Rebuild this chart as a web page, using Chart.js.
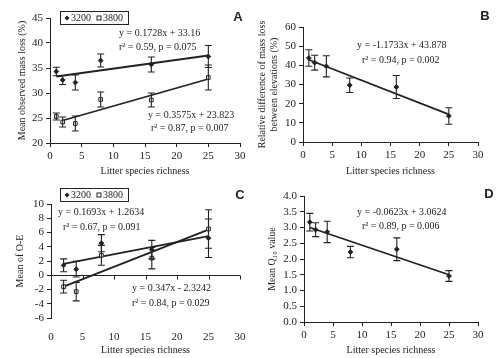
<!DOCTYPE html>
<html>
<head>
<meta charset="utf-8">
<script src="https://cdn.jsdelivr.net/npm/chart.js@4"></script>
<style>
  body { margin: 0; background: #fff; }
  #wrap { position: relative; width: 500px; height: 358px; }
  canvas { position: absolute; }
</style>
</head>
<body>
<div id="wrap">
  <canvas id="chartA" width="250" height="179" style="left:0;top:0"></canvas>
  <canvas id="chartB" width="250" height="179" style="left:250px;top:0"></canvas>
  <canvas id="chartC" width="250" height="179" style="left:0;top:179px"></canvas>
  <canvas id="chartD" width="250" height="179" style="left:250px;top:179px"></canvas>
</div>
<script>
// litter species richness (x values)
var richness = [1, 2, 4, 8, 16, 25];
var richnessC = [2, 4, 8, 16, 25];
var xTicks = [0, 5, 10, 15, 20, 25, 30];

// A - mean observed mass loss (%)
var massLoss3200 = [34.3, 32.6, 32.1, 36.5, 35.7, 37.3];
var massLoss3200Err = [0.85, 0.9, 1.5, 1.3, 1.5, 2.2];
var massLoss3800 = [25.3, 24.2, 23.9, 28.7, 28.6, 33.1];
var massLoss3800Err = [0.7, 1.0, 1.5, 1.5, 1.4, 2.5];
var fitA3200X = [1, 25], fitA3200Y = [33.3, 37.5];
var fitA3800X = [2, 25], fitA3800Y = [24.5, 32.8];

// B - relative difference of mass loss between elevations (%)
var relDiff = [43.8, 41.4, 39.5, 29.6, 28.7, 13.6];
var relDiffErr = [4.3, 3.9, 5.5, 3.8, 6.0, 4.3];
var fitBX = [1, 25], fitBY = [42.9, 14.4];

// C - mean of O-E
var oe3200 = [1.4, 0.85, 4.5, 3.6, 5.2];
var oe3200Err = [0.9, 1.1, 1.2, 1.3, 2.7];
var oe3800 = [-1.6, -2.3, 2.8, 2.4, 6.5];
var oe3800Err = [0.9, 1.3, 1.4, 1.5, 2.7];
var fitC3200X = [2, 25], fitC3200Y = [1.6, 5.5];
var fitC3800X = [2, 25], fitC3800Y = [-1.6, 6.4];

// D - mean Q10 value
var q10 = [3.17, 2.93, 2.86, 2.22, 2.31, 1.46];
var q10Err = [0.28, 0.22, 0.34, 0.18, 0.36, 0.17];
var fitDX = [1, 25], fitDY = [3.0, 1.5];

var serif = "'Liberation Serif', 'Times New Roman', serif";
var ink = '#222';

function pts(xs, ys) {
  var out = [];
  for (var i = 0; i < xs.length; i++) out.push({x: xs[i], y: ys[i]});
  return out;
}

function points(xs, ys, errs, style) {
  return {
    type: 'scatter',
    data: pts(xs, ys),
    errors: errs,
    pointStyle: style == 'open' ? 'rect' : 'rectRot',
    pointRadius: style == 'open' ? 2.6 : 2.4,
    backgroundColor: style == 'open' ? '#fff' : ink,
    borderColor: ink,
    borderWidth: 1,
    order: 1
  };
}

function fitLine(xs, ys) {
  return {
    type: 'line',
    data: pts(xs, ys),
    showLine: true,
    pointRadius: 0,
    borderColor: ink,
    borderWidth: 1.8,
    fill: false,
    order: 2
  };
}

// error bars, drawn from each dataset's errors array
var errorBars = {
  id: 'errorBars',
  afterDatasetsDraw: function(chart) {
    var ctx = chart.ctx;
    var xs = chart.scales.x, ys = chart.scales.y;
    ctx.save();
    ctx.strokeStyle = ink;
    ctx.lineWidth = 1.1;
    chart.data.datasets.forEach(function(ds) {
      if (!ds.errors) return;
      ds.data.forEach(function(p, i) {
        var px = xs.getPixelForValue(p.x);
        var top = ys.getPixelForValue(p.y + ds.errors[i]);
        var bot = ys.getPixelForValue(p.y - ds.errors[i]);
        ctx.beginPath();
        ctx.moveTo(px, top); ctx.lineTo(px, bot);
        ctx.moveTo(px - 3.5, top); ctx.lineTo(px + 3.5, top);
        ctx.moveTo(px - 3.5, bot); ctx.lineTo(px + 3.5, bot);
        ctx.stroke();
      });
    });
    ctx.restore();
  }
};

// equations, panel letter, boxed legend, zero axis
var extras = {
  id: 'extras',
  afterDraw: function(chart, args, opts) {
    var ctx = chart.ctx;
    ctx.save();
    ctx.fillStyle = ink;
    ctx.textBaseline = 'middle';
    ctx.textAlign = 'left';
    ctx.font = '10px ' + serif;
    (opts.notes || []).forEach(function(n) {
      ctx.fillText(n[0], n[1], n[2]);
    });
    if (opts.letter) {
      ctx.font = "bold 13px 'Liberation Sans', Arial, sans-serif";
      ctx.textAlign = 'center';
      ctx.fillText(opts.letter[0], opts.letter[1], opts.letter[2]);
    }
    if (opts.legend) {
      var L = opts.legend;
      ctx.strokeStyle = ink;
      ctx.lineWidth = 1;
      ctx.strokeRect(L.x + 0.5, L.y + 0.5, 68, 13);
      var cy = L.y + 7;
      ctx.font = '10px ' + serif;
      ctx.textAlign = 'left';
      // 3200 filled marker
      ctx.beginPath();
      ctx.moveTo(L.x + 7, cy - 2.5); ctx.lineTo(L.x + 9.5, cy);
      ctx.lineTo(L.x + 7, cy + 2.5); ctx.lineTo(L.x + 4.5, cy);
      ctx.closePath(); ctx.fill();
      ctx.fillText('3200', L.x + 11, cy);
      // 3800 open marker
      ctx.fillStyle = '#fff';
      ctx.fillRect(L.x + 37, cy - 2, 4, 4);
      ctx.strokeRect(L.x + 37, cy - 2, 4, 4);
      ctx.fillStyle = ink;
      ctx.fillText('3800', L.x + 43, cy);
    }
    if (opts.zeroAxis) {
      var xs = chart.scales.x, y0 = Math.round(chart.scales.y.getPixelForValue(0)) + 0.5;
      ctx.strokeStyle = ink;
      ctx.lineWidth = 1;
      ctx.beginPath();
      ctx.moveTo(chart.chartArea.left, y0); ctx.lineTo(chart.chartArea.right, y0);
      xTicks.forEach(function(t) {
        var px = Math.round(xs.getPixelForValue(t)) + 0.5;
        ctx.moveTo(px, y0); ctx.lineTo(px, y0 + 4);
      });
      ctx.stroke();
    }
    ctx.restore();
  }
};

function makePanel(id, p) {
  var ctx = document.getElementById(id).getContext('2d');
  return new Chart(ctx, {
    type: 'scatter',
    data: { datasets: p.datasets },
    options: {
      responsive: false,
      animation: false,
      devicePixelRatio: 1,
      layout: { padding: { top: p.area[2], right: 250 - p.area[1], left: 0, bottom: 0 } },
      plugins: {
        legend: { display: false },
        tooltip: { enabled: false },
        extras: { notes: p.notes, letter: p.letter, legend: p.legend, zeroAxis: p.zeroAxis }
      },
      scales: {
        x: {
          type: 'linear', min: 0, max: 30,
          afterBuildTicks: function(s) { s.ticks = xTicks.map(function(v) { return {value: v}; }); },
          afterFit: function(s) { s.height = 179 - p.area[3]; },
          border: { display: !p.zeroAxis, color: ink, width: 1 },
          // in C the ticks sit on the zero line, so the bottom ones are only spacing
          grid: { display: true, drawOnChartArea: false, drawTicks: true,
                  tickLength: p.zeroAxis ? 10 : 4, color: p.zeroAxis ? 'rgba(0,0,0,0)' : ink },
          ticks: { color: ink, font: { family: serif, size: 11 }, padding: 3,
                   maxRotation: 0, autoSkip: false },
          title: { display: true, text: 'Litter species richness', color: ink,
                   font: { family: serif, size: 10 }, padding: { top: 2, bottom: p.xTitlePad } }
        },
        y: {
          type: 'linear', min: p.yMin, max: p.yMax,
          ticks: {
            stepSize: p.yStep, color: ink, font: { family: serif, size: 11 }, padding: 3, autoSkip: false,
            callback: function(v) { return p.yDec ? v.toFixed(p.yDec) : v; }
          },
          afterFit: function(s) { s.width = p.area[0]; },
          border: { display: true, color: ink, width: 1 },
          grid: { display: true, drawOnChartArea: false, drawTicks: true, tickLength: 4, color: ink },
          title: { display: true, text: p.yTitle, color: ink,
                   font: { family: serif, size: 10 }, padding: { top: p.yTitlePad, bottom: 0 } }
        }
      }
    },
    plugins: [errorBars, extras]
  });
}

// area = [left, right, top, bottom] of the plot area in canvas pixels
makePanel('chartA', {
  area: [50, 240, 18, 143],
  yMin: 20, yMax: 45, yStep: 5,
  yTitle: 'Mean observed mass loss (%)', yTitlePad: 16, xTitlePad: 2,
  datasets: [
    fitLine(fitA3200X, fitA3200Y), fitLine(fitA3800X, fitA3800Y),
    points(richness, massLoss3200, massLoss3200Err, 'filled'),
    points(richness, massLoss3800, massLoss3800Err, 'open')
  ],
  notes: [
    ['y = 0.1728x + 33.16', 119, 33], ['r\u00b2 = 0.59, p = 0.075', 119, 47],
    ['y = 0.3575x + 23.823', 148, 115], ['r\u00b2 = 0.87, p = 0.007', 151, 128]
  ],
  letter: ['A', 238, 17],
  legend: { x: 60, y: 11 }
});

makePanel('chartB', {
  area: [53, 228, 27, 142],
  yMin: 0, yMax: 60, yStep: 10,
  yTitle: ['Relative difference of mass loss', 'between elevations (%)'], yTitlePad: 6, xTitlePad: 2,
  datasets: [
    fitLine(fitBX, fitBY),
    points(richness, relDiff, relDiffErr, 'filled')
  ],
  notes: [
    ['y = -1.1733x + 43.878', 107, 45], ['r\u00b2 = 0.94, p = 0.002', 112, 60]
  ],
  letter: ['B', 235, 16]
});

makePanel('chartC', {
  area: [51, 240, 25, 139],
  yMin: -6, yMax: 10, yStep: 2,
  yTitle: 'Mean of O-E', yTitlePad: 14, xTitlePad: 2,
  zeroAxis: true,
  datasets: [
    fitLine(fitC3200X, fitC3200Y), fitLine(fitC3800X, fitC3800Y),
    points(richnessC, oe3200, oe3200Err, 'filled'),
    points(richnessC, oe3800, oe3800Err, 'open')
  ],
  notes: [
    ['y = 0.1693x + 1.2634', 58, 33], ['r\u00b2 = 0.67, p = 0.091', 63, 48],
    ['y = 0.347x - 2.3242', 132, 109], ['r\u00b2 = 0.84, p = 0.029', 132, 124]
  ],
  letter: ['C', 240, 16],
  legend: { x: 60, y: 9 }
});

makePanel('chartD', {
  area: [54, 228, 17, 143],
  yMin: 0, yMax: 4, yStep: 0.5, yDec: 1,
  yTitle: 'Mean Q\u2081\u2080 value', yTitlePad: 16, xTitlePad: 2,
  datasets: [
    fitLine(fitDX, fitDY),
    points(richness, q10, q10Err, 'filled')
  ],
  notes: [
    ['y = -0.0623x + 3.0624', 107, 33], ['r\u00b2 = 0.89, p = 0.006', 112, 47]
  ],
  letter: ['D', 239, 15]
});
</script>
</body>
</html>
